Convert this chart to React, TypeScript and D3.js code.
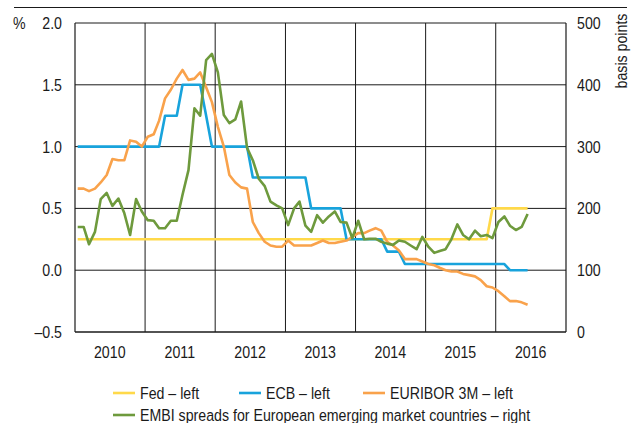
import React from "react";
import * as d3 from "d3";

const START_YEAR = 2010;
const yearLabels = ["2010", "2011", "2012", "2013", "2014", "2015", "2016"];
const leftTicks = [-0.5, 0, 0.5, 1.0, 1.5, 2.0];
const rightTicks = [0, 100, 200, 300, 400, 500];

// Monthly values, Jan 2010 – Jun 2016
const fed = [
  0.25, 0.25, 0.25, 0.25, 0.25, 0.25, 0.25, 0.25, 0.25, 0.25, 0.25, 0.25,
  0.25, 0.25, 0.25, 0.25, 0.25, 0.25, 0.25, 0.25, 0.25, 0.25, 0.25, 0.25,
  0.25, 0.25, 0.25, 0.25, 0.25, 0.25, 0.25, 0.25, 0.25, 0.25, 0.25, 0.25,
  0.25, 0.25, 0.25, 0.25, 0.25, 0.25, 0.25, 0.25, 0.25, 0.25, 0.25, 0.25,
  0.25, 0.25, 0.25, 0.25, 0.25, 0.25, 0.25, 0.25, 0.25, 0.25, 0.25, 0.25,
  0.25, 0.25, 0.25, 0.25, 0.25, 0.25, 0.25, 0.25, 0.25, 0.25, 0.25, 0.5,
  0.5, 0.5, 0.5, 0.5, 0.5, 0.5,
];
const ecb = [
  1.0, 1.0, 1.0, 1.0, 1.0, 1.0, 1.0, 1.0, 1.0, 1.0, 1.0, 1.0,
  1.0, 1.0, 1.0, 1.25, 1.25, 1.25, 1.5, 1.5, 1.5, 1.5, 1.25, 1.0,
  1.0, 1.0, 1.0, 1.0, 1.0, 1.0, 0.75, 0.75, 0.75, 0.75, 0.75, 0.75,
  0.75, 0.75, 0.75, 0.75, 0.5, 0.5, 0.5, 0.5, 0.5, 0.5, 0.25, 0.25,
  0.25, 0.25, 0.25, 0.25, 0.25, 0.15, 0.15, 0.15, 0.05, 0.05, 0.05, 0.05,
  0.05, 0.05, 0.05, 0.05, 0.05, 0.05, 0.05, 0.05, 0.05, 0.05, 0.05, 0.05,
  0.05, 0.05, 0.0, 0.0, 0.0, 0.0,
];
const euribor = [
  0.66, 0.66, 0.64, 0.66, 0.71, 0.77, 0.9, 0.89, 0.89, 1.05, 1.04, 1.0,
  1.08, 1.1, 1.21, 1.39, 1.46, 1.55, 1.62, 1.54, 1.55, 1.6, 1.48, 1.36,
  1.16, 1.0, 0.77, 0.71, 0.67, 0.66, 0.39, 0.3, 0.23, 0.2, 0.19, 0.19,
  0.24, 0.2, 0.2, 0.2, 0.2, 0.22, 0.24, 0.22, 0.22, 0.23, 0.24, 0.27,
  0.3, 0.3, 0.32, 0.34, 0.32, 0.23, 0.2, 0.16, 0.09, 0.09, 0.09, 0.07,
  0.05, 0.04, 0.02, 0.0, -0.01, -0.01, -0.03, -0.04, -0.05, -0.08, -0.13, -0.14,
  -0.17, -0.21, -0.25, -0.25, -0.26, -0.28,
];
const embi = [
  170, 170, 142, 162, 215, 225, 204, 216, 192, 157, 215, 195,
  181, 180, 168, 168, 180, 180, 222, 262, 362, 350, 440, 450,
  420, 351, 338, 344, 373, 298, 278, 248, 236, 211, 205, 200,
  173, 200, 211, 172, 162, 189, 177, 187, 195, 178, 177, 152,
  180, 150, 151, 151, 146, 143, 141, 148, 146, 140, 134, 154,
  138, 128, 131, 134, 150, 174, 157, 150, 164, 155, 157, 152,
  178, 187, 172, 165, 170, 191,
];

const FONT = "'Liberation Sans', Arial, sans-serif";
const INK = "#1a1a1a";
const C_FED = "#FFD94A";
const C_ECB = "#18A3DC";
const C_EUR = "#F9A24B";
const C_EMBI = "#6E9A3D";
const SQUEEZE = 0.86;
const FS = 16.5;

function T(props: { x: number; y: number; anchor?: string; rotate?: number; dy?: string; children: React.ReactNode }) {
  const { x, y, anchor = "start", rotate = 0, dy, children } = props;
  return (
    <text
      transform={`translate(${x},${y}) rotate(${rotate}) scale(${SQUEEZE},1)`}
      textAnchor={anchor}
      dy={dy}
      fontSize={FS}
      fill={INK}
    >
      {children}
    </text>
  );
}

export default function App() {
  const L = 75, R = 566, TOP = 23, B = 332;
  const x = d3.scaleTime()
    .domain([new Date(START_YEAR, 0, 1), new Date(START_YEAR + 7, 0, 1)])
    .range([L, R]);
  const yL = d3.scaleLinear().domain([-0.5, 2.0]).range([B, TOP]);
  const yR = d3.scaleLinear().domain([0, 500]).range([B, TOP]);
  const date = (i: number) => new Date(START_YEAR, i, 15);

  const lineL = d3.line<number>().x((_, i) => x(date(i))).y((d) => yL(d));
  const lineR = d3.line<number>().x((_, i) => x(date(i))).y((d) => yR(d));

  const gridYears = d3.range(1, 7).map((k) => new Date(START_YEAR + k, 0, 1));

  const legendRow1 = [
    { label: "Fed – left", color: C_FED, x0: 113 },
    { label: "ECB – left", color: C_ECB, x0: 239 },
    { label: "EURIBOR 3M – left", color: C_EUR, x0: 363 },
  ];

  return (
    <svg width={638} height={423} style={{ display: "block", position: "absolute", left: 0, top: 0 }} fontFamily={FONT}>
      <rect width={638} height={423} fill="#fff" />
      <line x1={14} x2={627} y1={7.5} y2={7.5} stroke={INK} strokeWidth={1} />
      {leftTicks.map((t) => (
        <line key={"h" + t} x1={L} x2={R} y1={yL(t)} y2={yL(t)} stroke={INK} strokeWidth={1} />
      ))}
      {gridYears.map((d, i) => (
        <line key={"v" + i} x1={x(d)} x2={x(d)} y1={TOP} y2={B} stroke={INK} strokeWidth={1} />
      ))}
      <line x1={L} x2={L} y1={TOP} y2={B} stroke={INK} strokeWidth={1.2} />
      <line x1={R} x2={R} y1={TOP} y2={B} stroke={INK} strokeWidth={1.2} />
      <line x1={L} x2={R} y1={B} y2={B} stroke={INK} strokeWidth={1.2} />

      <path d={lineL(fed) || ""} fill="none" stroke={C_FED} strokeWidth={2.6} strokeLinejoin="round" />
      <path d={lineL(ecb) || ""} fill="none" stroke={C_ECB} strokeWidth={2.6} strokeLinejoin="round" />
      <path d={lineL(euribor) || ""} fill="none" stroke={C_EUR} strokeWidth={2.6} strokeLinejoin="round" />
      <path d={lineR(embi) || ""} fill="none" stroke={C_EMBI} strokeWidth={2.6} strokeLinejoin="round" />

      {leftTicks.map((t) => (
        <T key={"lt" + t} x={62} y={yL(t)} dy="0.36em" anchor="end">
          {t < 0 ? "–" + Math.abs(t).toFixed(1) : t.toFixed(1)}
        </T>
      ))}
      <T x={13} y={yL(2.0)} dy="0.36em">%</T>
      {rightTicks.map((t) => (
        <T key={"rt" + t} x={577} y={yR(t)} dy="0.36em">{t}</T>
      ))}
      <T x={621} y={51} rotate={-90} anchor="middle" dy="0.36em">basis points</T>
      {yearLabels.map((lab, i) => (
        <T key={lab} x={x(new Date(START_YEAR + i, 6, 1))} y={358} anchor="middle">{lab}</T>
      ))}

      {legendRow1.map((it) => (
        <g key={it.label}>
          <line x1={it.x0} x2={it.x0 + 22} y1={393} y2={393} stroke={it.color} strokeWidth={2.6} />
          <T x={it.x0 + 27} y={399}>{it.label}</T>
        </g>
      ))}
      <line x1={113} x2={135} y1={415} y2={415} stroke={C_EMBI} strokeWidth={2.6} />
      <T x={140} y={421}>EMBI spreads for European emerging market countries – right</T>
    </svg>
  );
}
